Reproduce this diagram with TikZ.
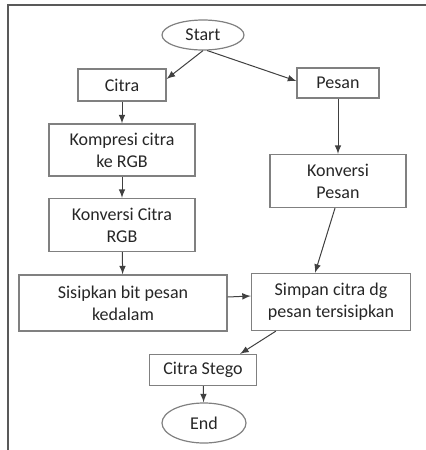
\documentclass[tikz,border=0pt]{standalone}
\usepackage{fontspec}
\setmainfont{Carlito}
\usetikzlibrary{shapes.geometric}

\begin{document}
\begin{tikzpicture}[
  box/.style={rectangle,draw=black!50,line width=0.6pt,align=center,inner sep=1pt,text=black!85},
  term/.style={ellipse,draw=black!50,line width=0.6pt,inner sep=0pt,text=black!85},
  edge/.style={->,>=latex,black!75,line width=0.5pt},
  frame/.style={black!65,line width=0.9pt},
  every node/.style={font=\fontsize{9}{11}\selectfont},
  x=0.5pt,y=-0.5pt
]
  \useasboundingbox (0,0) rectangle (426,450);
  \draw[frame] (8,450)--(8,5)--(426,5);

  \node[term,minimum width=41pt,minimum height=15pt] (start) at (203,35) {Start};
  \node[box,minimum width=44pt,minimum height=16pt] (citra) at (122,85) {Citra};
  \node[box,minimum width=41pt,minimum height=15pt] (pesan) at (338,83) {Pesan};
  \node[box,minimum width=73pt,minimum height=26pt] (kompresi) at (122,150) {Kompresi citra\\ke RGB};
  \node[box,minimum width=68pt,minimum height=26.5pt] (kpesan) at (338,181) {Konversi\\Pesan};
  \node[box,minimum width=73pt,minimum height=26.5pt] (kcitra) at (122,225) {Konversi Citra\\RGB};
  \node[box,minimum width=104pt,minimum height=28pt] (sisip) at (123,303) {Sisipkan bit pesan\\kedalam};
  \node[box,minimum width=79.5pt,minimum height=28.5pt] (simpan) at (331,302) {Simpan citra dg\\pesan tersisipkan};
  \node[box,minimum width=53.5pt,minimum height=15.5pt] (stego) at (203,370) {Citra Stego};
  \node[term,minimum width=42pt,minimum height=20pt] (end) at (204,423) {End};

  \draw[edge] (start.south)--([yshift=3pt]citra.east);
  \draw[edge] (start.-75)--([yshift=1pt]pesan.west);
  \draw[edge] (citra)--(kompresi);
  \draw[edge] (kompresi)--(kcitra);
  \draw[edge] (kcitra)--(sisip);
  \draw[edge] (pesan)--(kpesan);
  \draw[edge] ([xshift=-1.5pt]kpesan.south)--([xshift=-8pt]simpan.north);
  \draw[edge] ([yshift=3pt]sisip.east)--([yshift=3pt]simpan.west);
  \draw[edge] ([xshift=12.5pt]simpan.south west)--([xshift=-8.5pt]stego.north east);
  \draw[edge] (stego)--(end);
\end{tikzpicture}
\end{document}
